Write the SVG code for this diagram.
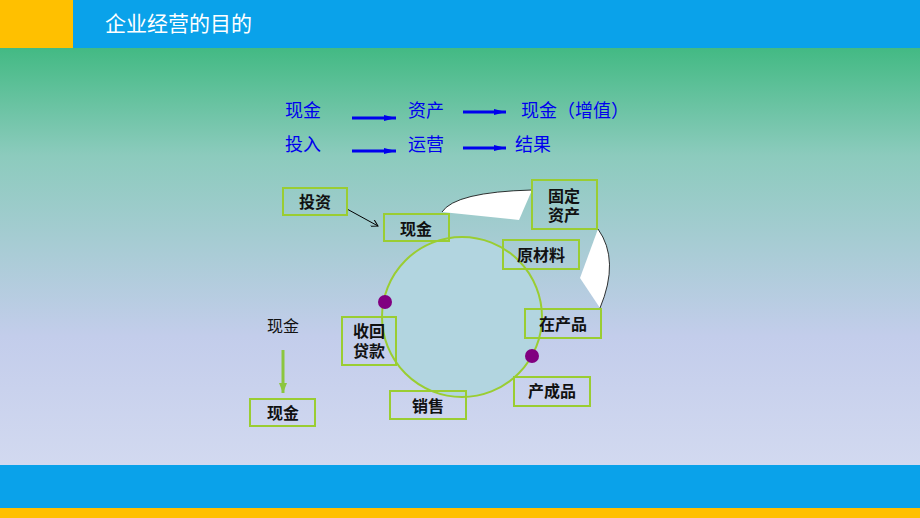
<svg xmlns="http://www.w3.org/2000/svg" width="920" height="518" viewBox="0 0 920 518">
<defs>
<linearGradient id="bg" x1="0" y1="0" x2="0" y2="1">
<stop offset="0" stop-color="#22b26a"/>
<stop offset="0.3" stop-color="#8ccbbd"/>
<stop offset="0.65" stop-color="#c3cdeb"/>
<stop offset="1" stop-color="#d8def2"/>
</linearGradient>
<marker id="ab" markerUnits="userSpaceOnUse" markerWidth="12" markerHeight="6" refX="12" refY="3" orient="auto"><path d="M0,0 L12,3 L0,6 Z" fill="#0000ee"/></marker>
<marker id="ak" markerUnits="userSpaceOnUse" markerWidth="8" markerHeight="8" refX="7" refY="4" orient="auto"><path d="M0,0 L7,4 L0,8" fill="none" stroke="#000"/></marker>
<marker id="ag" markerUnits="userSpaceOnUse" markerWidth="10" markerHeight="8" refX="10" refY="4" orient="auto"><path d="M0,0 L10,4 L0,8 Z" fill="#8cc63f"/></marker>
</defs>
<style>
.b{font-family:"Liberation Sans","Noto Sans CJK SC",sans-serif;font-size:18px;fill:#0000ee}
.n rect{fill:none;stroke:#9acd32;stroke-width:2}
.n text{font-family:"Liberation Sans","Noto Sans CJK SC",sans-serif;font-size:16px;font-weight:bold;fill:#111;text-anchor:middle}
.c{stroke:#0000ee;stroke-width:3;marker-end:url(#ab)}
</style>
<rect width="920" height="518" fill="url(#bg)"/>
<rect y="0" width="920" height="48" fill="#0aa2ea"/>
<rect y="0" width="73" height="48" fill="#ffc000"/>
<text x="105" y="31" font-family="Liberation Sans,Noto Sans CJK SC,sans-serif" font-size="21" fill="#fff">企业经营的目的</text>
<rect y="465" width="920" height="43" fill="#0aa2ea"/>
<rect y="508" width="920" height="10" fill="#ffc000"/>
<text class="b" x="285" y="117">现金</text>
<text class="b" x="408" y="117">资产</text>
<text class="b" x="521" y="117">现金（增值）</text>
<text class="b" x="285" y="151">投入</text>
<text class="b" x="408" y="151">运营</text>
<text class="b" x="515" y="151">结果</text>
<g id="connectors">
<line class="c" x1="352" y1="118" x2="396" y2="118"/>
<line class="c" x1="463" y1="112" x2="506" y2="112"/>
<line class="c" x1="352" y1="151" x2="396" y2="151"/>
<line class="c" x1="463" y1="148" x2="506" y2="148"/>
<line x1="347" y1="209" x2="378" y2="226" stroke="#000" marker-end="url(#ak)"/>
<line x1="283" y1="350" x2="283" y2="393" stroke="#8cc63f" stroke-width="3" marker-end="url(#ag)"/>
<path d="M442,212 Q455,192 532,190 L519,220 Z" fill="#fff"/>
<path d="M598,229 Q620,260 600,308 L580,278 Z" fill="#fff"/>
<path d="M442,212 Q455,192 532,190" fill="none" stroke="#000" stroke-width="0.8"/>
<path d="M598,229 Q620,260 600,308" fill="none" stroke="#000" stroke-width="0.8"/>
</g>
<circle cx="462" cy="317" r="80" fill="#b2d5e0" stroke="#9acd32" stroke-width="2"/>
<circle cx="385" cy="302" r="7" fill="#800080"/>
<circle cx="532" cy="356" r="7" fill="#800080"/>
<g id="n1" class="n"><rect x="283" y="188" width="64" height="27"/><text x="315" y="208">投资</text></g>
<g id="n2" class="n"><rect x="384" y="214" width="65" height="27"/><text x="416" y="235">现金</text></g>
<g id="n3" class="n"><rect x="532" y="180" width="65" height="49"/><text x="564" y="202">固定</text><text x="564" y="221">资产</text></g>
<g id="n4" class="n"><rect x="503" y="240" width="76" height="29"/><text x="541" y="261">原材料</text></g>
<g id="n5" class="n"><rect x="525" y="309" width="76" height="29"/><text x="563" y="330">在产品</text></g>
<g id="n6" class="n"><rect x="514" y="377" width="76" height="29"/><text x="552" y="397">产成品</text></g>
<g id="n7" class="n"><rect x="390" y="391" width="76" height="28"/><text x="428" y="412">销售</text></g>
<g id="n8" class="n"><rect x="342" y="317" width="54" height="48"/><text x="369" y="337">收回</text><text x="369" y="357">贷款</text></g>
<g id="n9" class="n"><rect x="250" y="399" width="65" height="27"/><text x="283" y="419">现金</text></g>
<text x="283" y="332" font-family="Liberation Sans,Noto Sans CJK SC,sans-serif" font-size="16" text-anchor="middle" fill="#111">现金</text>
</svg>
